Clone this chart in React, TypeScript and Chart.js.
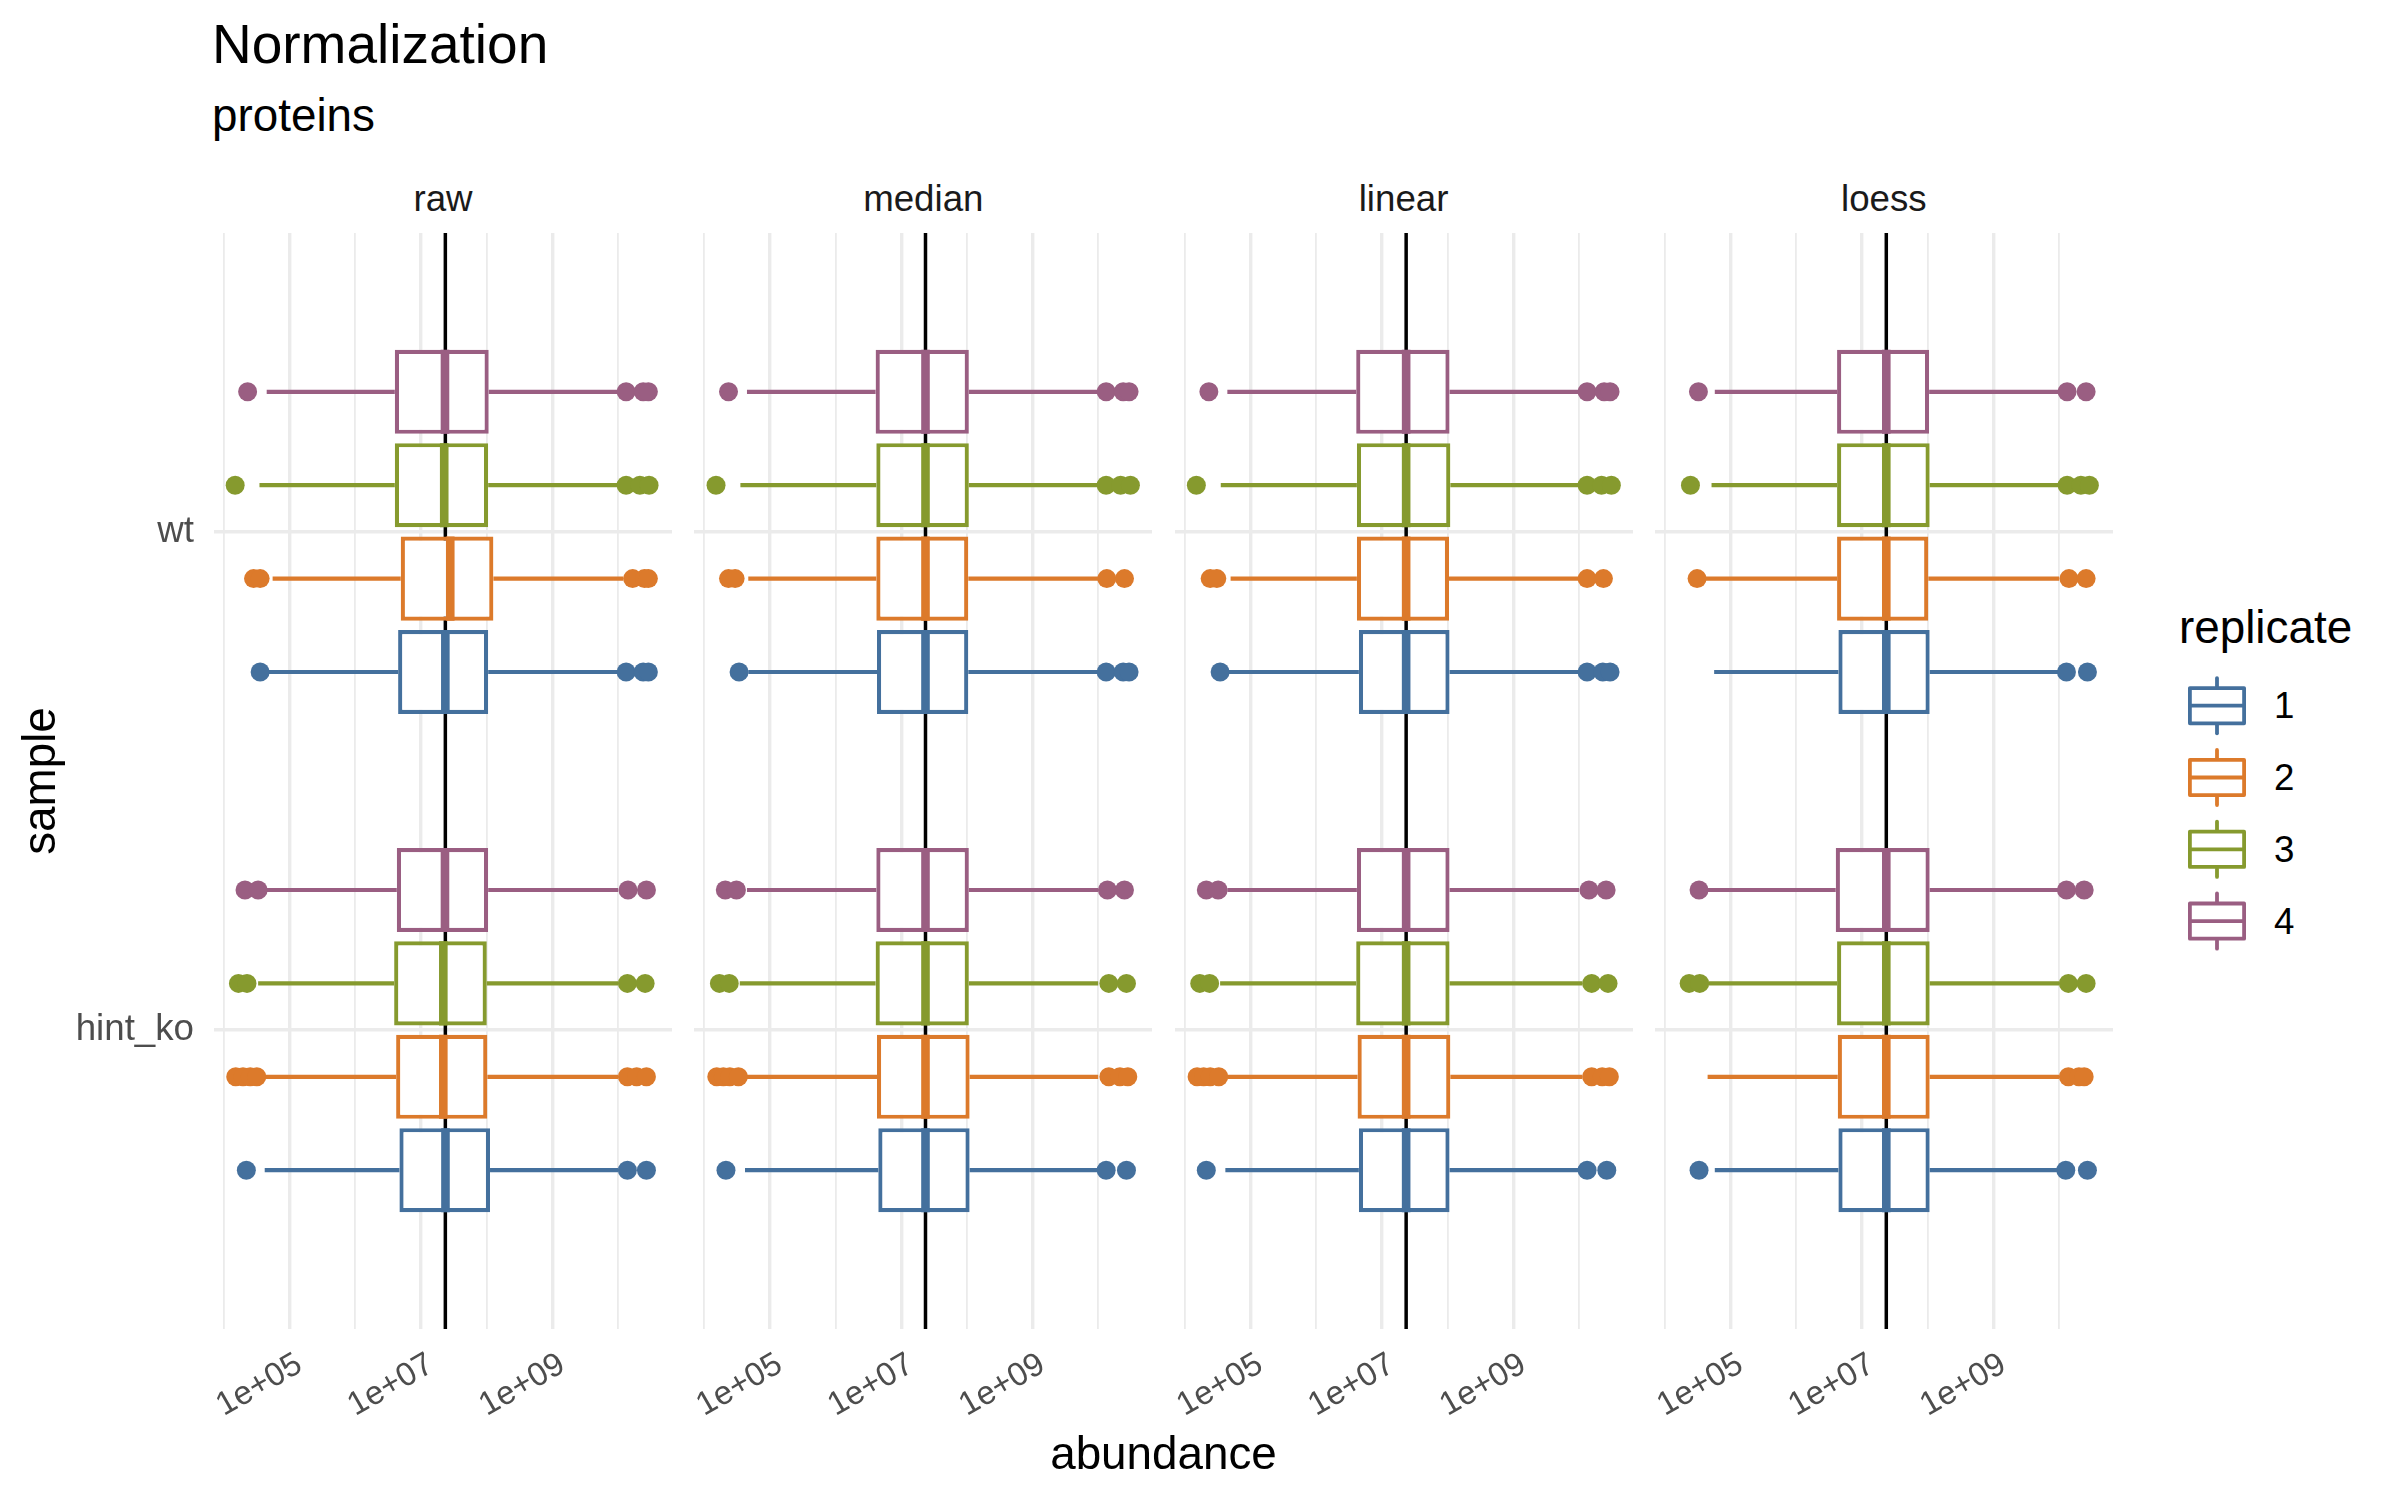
import React, { useEffect, useRef } from 'react';
import { Chart, registerables } from 'chart.js';

Chart.register(...registerables);

const FONT = '"Liberation Sans", Arial, Helvetica, sans-serif';

// ---------------- data ----------------
const facets = ['raw', 'median', 'linear', 'loess'];
const samples = ['hint_ko', 'wt'];
const replicates = ['1', '2', '3', '4'];
const replicateColors = ['#44709D', '#DC7A2B', '#869A2E', '#9A5E82'];

const xGridValues = [1e4, 1e5, 1e6, 1e7, 1e8, 1e9, 1e10];
const xTickValues = [1e5, 1e7, 1e9];
const xTickLabels = ['1e+05', '1e+07', '1e+09'];
const overallMedian = 2.34e7;

// indexing: [facet][sample: hint_ko, wt][replicate 1..4]
const lowerWhisker = [
  [[4.17e4, 4.17e4, 3.31e4, 4.47e4], [4.79e4, 5.5e4, 3.47e4, 4.47e4]],
  [[4.17e4, 4.47e4, 3.47e4, 4.47e4], [4.68e4, 4.68e4, 3.55e4, 4.47e4]],
  [[4.17e4, 4.47e4, 3.47e4, 4.47e4], [4.68e4, 5.01e4, 3.55e4, 4.47e4]],
  [[5.75e4, 4.47e4, 4.68e4, 3.98e4], [5.62e4, 4.07e4, 5.13e4, 5.75e4]],
];
const lowerHinge = [
  [[4.68e6, 4.17e6, 3.89e6, 4.27e6], [4.47e6, 4.9e6, 3.98e6, 3.98e6]],
  [[4.47e6, 4.27e6, 4.07e6, 4.17e6], [4.27e6, 4.17e6, 4.17e6, 4.07e6]],
  [[4.47e6, 4.27e6, 4.07e6, 4.17e6], [4.47e6, 4.17e6, 4.17e6, 4.07e6]],
  [[4.37e6, 4.27e6, 4.17e6, 3.98e6], [4.37e6, 4.17e6, 4.17e6, 4.17e6]],
];
const medianValues = [
  [[2.35e7, 2.18e7, 2.18e7, 2.31e7], [2.34e7, 2.78e7, 2.25e7, 2.31e7]],
  [[2.34e7, 2.34e7, 2.34e7, 2.34e7], [2.34e7, 2.34e7, 2.34e7, 2.34e7]],
  [[2.34e7, 2.34e7, 2.34e7, 2.34e7], [2.34e7, 2.34e7, 2.34e7, 2.34e7]],
  [[2.34e7, 2.34e7, 2.34e7, 2.34e7], [2.34e7, 2.34e7, 2.34e7, 2.34e7]],
];
const upperHinge = [
  [[1.12e8, 1.02e8, 1.0e8, 1.05e8], [1.05e8, 1.26e8, 1.05e8, 1.07e8]],
  [[1.1e8, 1.1e8, 1.07e8, 1.07e8], [1.05e8, 1.05e8, 1.07e8, 1.07e8]],
  [[1.07e8, 1.1e8, 1.07e8, 1.07e8], [1.07e8, 1.05e8, 1.1e8, 1.07e8]],
  [[1.07e8, 1.07e8, 1.07e8, 1.07e8], [1.07e8, 1.02e8, 1.07e8, 1.05e8]],
];
const upperWhisker = [
  [[1.0e10, 1.0e10, 1.0e10, 1.0e10], [1.0e10, 1.2e10, 1.0e10, 1.0e10]],
  [[1.0e10, 1.0e10, 1.0e10, 1.0e10], [1.0e10, 1.0e10, 1.0e10, 1.0e10]],
  [[1.0e10, 1.12e10, 1.12e10, 1.0e10], [1.0e10, 1.0e10, 1.0e10, 1.0e10]],
  [[1.0e10, 1.0e10, 1.0e10, 1.0e10], [1.0e10, 1.0e10, 1.0e10, 1.0e10]],
];
const outliers = [
  [
    [[2.19e4, 1.38e10, 2.69e10], [1.51e4, 1.95e4, 2.51e4, 3.16e4, 1.38e10, 1.91e10, 2.69e10], [1.66e4, 2.24e4, 1.38e10, 2.57e10], [2.09e4, 3.31e4, 1.41e10, 2.69e10]],
    [[3.55e4, 1.32e10, 2.4e10, 2.88e10], [2.82e4, 3.55e4, 1.66e10, 2.51e10, 2.88e10], [1.48e4, 1.32e10, 2.14e10, 2.95e10], [2.29e4, 1.32e10, 2.4e10, 2.88e10]],
  ],
  [
    [[2.14e4, 1.32e10, 2.69e10], [1.55e4, 1.95e4, 2.45e4, 3.31e4, 1.45e10, 2.14e10, 2.82e10], [1.7e4, 2.4e4, 1.45e10, 2.69e10], [2.09e4, 3.09e4, 1.38e10, 2.51e10]],
    [[3.39e4, 1.32e10, 2.4e10, 2.95e10], [2.34e4, 2.95e4, 1.35e10, 2.51e10], [1.51e4, 1.32e10, 2.19e10, 3.09e10], [2.34e4, 1.32e10, 2.4e10, 2.95e10]],
  ],
  [
    [[2.14e4, 1.32e10, 2.63e10], [1.55e4, 1.95e4, 2.45e4, 3.31e4, 1.55e10, 2.24e10, 2.88e10], [1.7e4, 2.4e4, 1.55e10, 2.75e10], [2.14e4, 3.24e4, 1.41e10, 2.57e10]],
    [[3.47e4, 1.32e10, 2.29e10, 2.95e10], [2.45e4, 3.09e4, 1.32e10, 2.34e10], [1.51e4, 1.32e10, 2.19e10, 3.09e10], [2.34e4, 1.32e10, 2.4e10, 2.95e10]],
  ],
  [
    [[3.31e4, 1.26e10, 2.69e10], [1.38e10, 2.0e10, 2.4e10], [2.34e4, 3.39e4, 1.38e10, 2.57e10], [3.31e4, 1.29e10, 2.4e10]],
    [[1.29e10, 2.69e10], [3.09e4, 1.41e10, 2.57e10], [2.45e4, 1.32e10, 2.14e10, 2.88e10], [3.24e4, 1.32e10, 2.57e10]],
  ],
];

// ---------------- layout ----------------
const PANEL_W = 458;
const PANEL_TOP = 233;
const CANVAS_H = 1267;
const X_AXIS_H = 171;
const panelLefts = [214, 694.3, 1174.6, 1654.9];
const canvasLefts = [0, 674, 1154, 1634];
const Y_MIN = 0.4;
const Y_MAX = 2.6;
const DODGE = 0.1875;
const BOX_HALF = DODGE * 0.45;
const X_MIN = 7.05e3;
const X_MAX = 6.59e10;
const GRID = '#EBEBEB';
const X_TICK_FONT = 33;

const yPos = (si: number, r: number) => si + 1 + (r - 1.5) * DODGE;
const isMajorTick = (v: number) => xTickValues.some((t) => Math.abs(Math.log10(t) - Math.log10(v)) < 1e-6);

function buildConfig(f: number): any {
  const yAxisWidth = panelLefts[f] - canvasLefts[f];
  const datasets: any[] = [];
  replicates.forEach((rep, r) => {
    const color = replicateColors[r];
    const outData: any[] = [];
    const medData: any[] = [];
    const boxData: any[] = [];
    const whiskData: any[] = [];
    samples.forEach((_, si) => {
      const y = yPos(si, r);
      outliers[f][si][r].forEach((v) => outData.push({ x: v, y }));
      const m = medianValues[f][si][r];
      medData.push({ x: m, y: y - BOX_HALF }, { x: m, y: y + BOX_HALF }, { x: m, y: null });
      boxData.push({ y, x: [lowerHinge[f][si][r], upperHinge[f][si][r]] });
      whiskData.push(
        { x: lowerWhisker[f][si][r], y },
        { x: lowerHinge[f][si][r], y },
        { x: lowerHinge[f][si][r], y: null },
        { x: upperHinge[f][si][r], y },
        { x: upperWhisker[f][si][r], y },
        { x: upperWhisker[f][si][r], y: null }
      );
    });
    datasets.push({
      type: 'scatter',
      label: 'outliers ' + rep,
      data: outData,
      order: 1,
      showLine: false,
      pointRadius: 9.5,
      pointHoverRadius: 9.5,
      pointBorderWidth: 0,
      pointBackgroundColor: color,
      backgroundColor: color,
      borderColor: color,
    });
    datasets.push({
      type: 'line',
      label: 'median ' + rep,
      data: medData,
      order: 2,
      borderColor: color,
      borderWidth: 8.6,
      pointRadius: 0,
      spanGaps: false,
      fill: false,
      tension: 0,
    });
    datasets.push({
      type: 'bar',
      label: 'box ' + rep,
      indexAxis: 'y',
      data: boxData,
      order: 3,
      backgroundColor: '#FFFFFF',
      borderColor: color,
      borderWidth: 4.2,
      borderSkipped: false,
      grouped: false,
      categoryPercentage: 0.9,
      barPercentage: 1,
    });
    datasets.push({
      type: 'line',
      label: 'whiskers ' + rep,
      data: whiskData,
      order: 4,
      borderColor: color,
      borderWidth: 4.2,
      pointRadius: 0,
      spanGaps: false,
      fill: false,
      tension: 0,
    });
  });
  datasets.push({
    type: 'line',
    label: 'overall median',
    data: [
      { x: overallMedian, y: Y_MIN },
      { x: overallMedian, y: Y_MAX },
    ],
    order: 5,
    borderColor: '#000000',
    borderWidth: 3.5,
    pointRadius: 0,
    fill: false,
  });

  return {
    type: 'scatter',
    data: { datasets },
    options: {
      animation: false,
      responsive: false,
      devicePixelRatio: 1,
      events: [],
      layout: { padding: 0, autoPadding: false },
      plugins: { legend: { display: false }, tooltip: { enabled: false }, title: { display: false } },
      scales: {
        x: {
          type: 'logarithmic',
          position: 'bottom',
          min: X_MIN,
          max: X_MAX,
          bounds: 'data',
          offset: false,
          afterBuildTicks: (s: any) => {
            s.ticks = xGridValues.map((v) => ({ value: v }));
          },
          afterFit: (s: any) => {
            s.height = X_AXIS_H;
            s.paddingLeft = 0;
            s.paddingRight = 0;
          },
          ticks: {
            autoSkip: false,
            minRotation: 30,
            maxRotation: 30,
            padding: 16,
            labelOffset: (X_TICK_FONT * 1.2) / 4,
            color: '#4D4D4D',
            font: { family: FONT, size: X_TICK_FONT },
            callback: (v: any) => {
              const i = xTickValues.findIndex((t) => Math.abs(Math.log10(t) - Math.log10(Number(v))) < 1e-6);
              return i >= 0 ? xTickLabels[i] : '';
            },
          },
          grid: {
            color: GRID,
            lineWidth: (ctx: any) => (ctx.tick && isMajorTick(ctx.tick.value) ? 3.4 : 1.8),
            drawTicks: false,
            offset: false,
          },
          border: { display: false },
        },
        y: {
          type: 'linear',
          position: 'left',
          min: Y_MIN,
          max: Y_MAX,
          offset: false,
          afterBuildTicks: (s: any) => {
            s.ticks = samples.map((_, i) => ({ value: i + 1 }));
          },
          afterFit: (s: any) => {
            s.width = yAxisWidth;
            s.paddingTop = 0;
            s.paddingBottom = 0;
          },
          ticks: {
            display: f === 0,
            padding: 20,
            color: '#4D4D4D',
            font: { family: FONT, size: 36.7 },
            callback: (v: any) => samples[Math.round(Number(v)) - 1] || '',
          },
          grid: { color: GRID, lineWidth: 3.4, drawTicks: false, offset: false },
          border: { display: false },
          title: {
            display: f === 0,
            text: 'sample',
            color: '#000000',
            font: { family: FONT, size: 45.8 },
            padding: { top: 15, bottom: 0 },
          },
        },
      },
    },
  };
}

const txt = (left: number, top: number, size: number, color: string, extra: any = {}): any => ({
  position: 'absolute',
  left,
  top,
  fontSize: size,
  lineHeight: `${size}px`,
  color,
  whiteSpace: 'nowrap',
  fontFamily: FONT,
  ...extra,
});

const legendCenters = [705.7, 777.5, 849.3, 921.1];

export default function App() {
  const refs = useRef<(HTMLCanvasElement | null)[]>([]);
  useEffect(() => {
    Chart.defaults.font.family = FONT;
    const charts = facets.map((_, f) => new Chart(refs.current[f] as HTMLCanvasElement, buildConfig(f)));
    return () => charts.forEach((c) => c.destroy());
  }, []);

  const SVG_L = 2170;
  const SVG_T = 650;

  return (
    <div style={{ position: 'absolute', left: 0, top: 0, width: 2400, height: 1500, background: '#FFFFFF', overflow: 'hidden' }}>
      {facets.map((name, f) => {
        const w = Math.round(panelLefts[f] - canvasLefts[f] + PANEL_W);
        return (
          <canvas
            key={name}
            ref={(el) => {
              refs.current[f] = el;
            }}
            width={w}
            height={CANVAS_H}
            style={{ position: 'absolute', left: canvasLefts[f], top: PANEL_TOP, width: w, height: CANVAS_H }}
          />
        );
      })}
      <div style={txt(212, 16.9, 55, '#000000')}>Normalization</div>
      <div style={txt(212, 92.5, 45.8, '#000000')}>proteins</div>
      {facets.map((name, f) => (
        <div key={'strip-' + name} style={txt(panelLefts[f] + PANEL_W / 2 - 200, 181, 36.7, '#1A1A1A', { width: 400, textAlign: 'center' })}>
          {name}
        </div>
      ))}
      <div style={txt(1163.5 - 300, 1430.5, 45.8, '#000000', { width: 600, textAlign: 'center' })}>abundance</div>
      <div style={txt(2179, 604.5, 45.8, '#000000')}>replicate</div>
      <svg style={{ position: 'absolute', left: SVG_L, top: SVG_T }} width={100} height={320}>
        {replicates.map((rep, r) => {
          const cy = legendCenters[r] - SVG_T;
          const c = replicateColors[r];
          return (
            <g key={'key-' + rep} stroke={c} strokeWidth={3.8} fill="none" strokeLinejoin="round">
              <line x1={2217 - SVG_L} x2={2217 - SVG_L} y1={cy - 27.6} y2={cy - 19.5} strokeLinecap="round" />
              <line x1={2217 - SVG_L} x2={2217 - SVG_L} y1={cy + 19.5} y2={cy + 27.6} strokeLinecap="round" />
              <rect x={2189.9 - SVG_L} y={cy - 17.6} width={54.2} height={35.2} fill="#FFFFFF" />
              <line x1={2189.9 - SVG_L} x2={2244.1 - SVG_L} y1={cy} y2={cy} />
            </g>
          );
        })}
      </svg>
      {replicates.map((rep, r) => (
        <div key={'lab-' + rep} style={txt(2274, legendCenters[r] - 17.5, 36.7, '#000000')}>
          {rep}
        </div>
      ))}
    </div>
  );
}
